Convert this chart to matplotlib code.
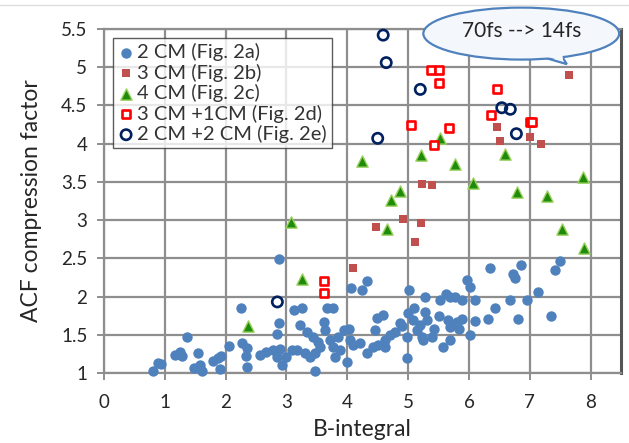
import matplotlib
matplotlib.use("Agg")
import matplotlib.pyplot as plt
from matplotlib.patches import Ellipse, Polygon
from matplotlib.lines import Line2D
import numpy as np

plt.rcParams['font.family'] = ['Lato', 'DejaVu Sans']

# 2 CM (Fig. 2a)
cm2 = np.array([
    (0.80, 1.03), (0.89, 1.13), (0.93, 1.12), (1.17, 1.24), (1.25, 1.27), (1.29, 1.22),
    (1.37, 1.47), (1.48, 1.07), (1.55, 1.26), (1.58, 1.10), (1.61, 1.03), (1.79, 1.16),
    (1.88, 1.19), (1.92, 1.22), (1.90, 1.05), (2.06, 1.35), (2.25, 1.85), (2.27, 1.39),
    (2.35, 1.33), (2.33, 1.22), (2.35, 1.08), (2.57, 1.24), (2.67, 1.28), (2.78, 1.30),
    (2.89, 1.32), (2.84, 1.21), (2.92, 1.10), (3.00, 1.21), (3.09, 1.30), (2.84, 1.51),
    (2.87, 1.66), (2.88, 2.49), (3.13, 1.82), (3.25, 1.85), (3.67, 1.85), (3.77, 1.85),
    (3.17, 1.30), (3.31, 1.26), (3.22, 1.63), (3.33, 1.54), (3.44, 1.47), (3.52, 1.41),
    (3.61, 1.67), (3.63, 1.56), (3.55, 1.34), (3.47, 1.26), (3.39, 1.21), (3.47, 1.03),
    (3.72, 1.43), (3.77, 1.34), (3.85, 1.47), (3.94, 1.56), (4.02, 1.58), (3.88, 1.30),
    (3.80, 1.21), (3.99, 1.15), (4.10, 1.37), (4.21, 1.39), (4.32, 1.26), (4.05, 1.43),
    (4.06, 2.11), (4.24, 2.09), (4.32, 2.21), (4.49, 1.72), (4.58, 1.76), (4.46, 1.56),
    (4.87, 1.65), (4.99, 1.78), (5.09, 1.85), (5.08, 1.69), (5.28, 1.80), (5.20, 1.63),
    (5.31, 1.69), (5.50, 1.74), (5.66, 1.69), (5.80, 1.67), (5.88, 1.71), (5.69, 1.60),
    (5.83, 1.57), (5.42, 1.58), (5.39, 1.47), (6.10, 1.68), (6.02, 1.50), (5.69, 1.43),
    (5.58, 1.34), (6.32, 1.70), (4.70, 1.50), (4.79, 1.54), (4.62, 1.43), (4.51, 1.37),
    (4.62, 1.34), (4.43, 1.34), (4.90, 1.61), (4.98, 1.47), (5.14, 1.56), (5.23, 1.47),
    (4.98, 1.19), (5.25, 1.43), (5.02, 2.08), (5.28, 1.99), (5.53, 1.96), (5.63, 2.03),
    (5.69, 1.99), (5.77, 2.00), (5.88, 1.96), (6.10, 1.96), (5.97, 2.22), (6.01, 2.12),
    (6.35, 2.37), (6.85, 2.41), (6.73, 2.30), (6.76, 2.24), (7.50, 2.47), (7.41, 2.35),
    (7.14, 2.06), (6.67, 1.95), (6.95, 1.95), (6.43, 1.85), (6.81, 1.71), (7.35, 1.74),
])

# 3 CM (Fig. 2b)
cm3 = np.array([
    (4.10, 2.37), (4.47, 2.91), (4.92, 3.02), (5.12, 2.71), (5.21, 2.96), (5.23, 3.47),
    (5.39, 3.46), (6.46, 4.22), (6.51, 4.04), (7.01, 4.09), (7.18, 3.99), (7.64, 4.90),
])

# 4 CM (Fig. 2c)
cm4 = np.array([
    (2.37, 1.62), (3.07, 2.98), (3.25, 2.23), (4.24, 3.77), (4.66, 2.88), (4.72, 3.26),
    (4.87, 3.38), (5.21, 3.85), (5.53, 4.07), (5.77, 3.73), (6.07, 3.49), (6.60, 3.87),
    (6.79, 3.37), (7.28, 3.32), (7.53, 2.89), (7.88, 3.56), (7.89, 2.63),
])

# 3 CM +1CM (Fig. 2d)
cm3p1 = np.array([
    (3.62, 2.21), (3.62, 2.05), (5.37, 4.97), (5.50, 4.97), (5.51, 4.79), (6.46, 4.71),
    (6.36, 4.38), (7.00, 4.28), (7.04, 4.28), (5.04, 4.25), (5.68, 4.20), (5.42, 3.98),
])

# 2 CM +2 CM (Fig. 2e)
cm2p2 = np.array([
    (2.85, 1.93), (4.59, 5.42), (4.64, 5.06), (5.20, 4.71), (4.50, 4.07),
    (6.54, 4.47), (6.68, 4.45), (6.78, 4.13),
])

labels = ['2 CM (Fig. 2a)', '3 CM (Fig. 2b)', '4 CM (Fig. 2c)',
          '3 CM +1CM (Fig. 2d)', '2 CM +2 CM (Fig. 2e)']
x_ticks = np.arange(0, 9, 1)
y_ticks = np.arange(1, 5.51, 0.5)

fig = plt.figure(figsize=(6.29, 4.43), dpi=100)
ax = fig.add_axes([104/629, 1 - 373/443, 517/629, 344/443])

grid_c = '#8e8e8e'
ax.set_xlim(0, 8.5)
ax.set_ylim(1, 5.5)
ax.set_xticks(x_ticks)
ax.set_yticks(y_ticks)
ax.set_yticklabels([('%g' % v) for v in y_ticks])
ax.grid(True, color=grid_c, lw=1.6, zorder=0)
ax.set_axisbelow(True)
ax.tick_params(direction='out', length=5, width=1.4, color=grid_c,
               labelsize=13.5, labelcolor='#262626', pad=7)
ax.tick_params(axis='x', pad=10)
for s in ['left', 'top', 'bottom']:
    ax.spines[s].set_color(grid_c)
    ax.spines[s].set_linewidth(1.6)
ax.spines['right'].set_color('#555555')
ax.spines['right'].set_linewidth(2.2)

ax.set_xlabel('B-integral', fontsize=16.5, color='#262626', labelpad=6)
ax.set_ylabel('ACF compression factor', fontsize=16.5, color='#262626', labelpad=14)

kw = dict(clip_on=False, zorder=3)
ax.scatter(cm2[:, 0], cm2[:, 1], s=56, marker='o', color='#4f81bd', lw=0, label=labels[0], **kw)
ax.scatter(cm3[:, 0], cm3[:, 1], s=38, marker='s', color='#c0504d', lw=0, label=labels[1], **kw)
ax.scatter(cm4[:, 0], cm4[:, 1], s=66, marker='^', facecolor='#1e8c0a', edgecolor='#9bd15f',
           lw=1.0, label=labels[2], **kw)
ax.scatter(cm3p1[:, 0], cm3p1[:, 1], s=32, marker='s', facecolor='white', edgecolor='#ff0000',
           lw=1.9, label=labels[3], **kw)
ax.scatter(cm2p2[:, 0], cm2p2[:, 1], s=55, marker='o', facecolor='none', edgecolor='#002060',
           lw=1.9, label=labels[4], **kw)

leg = ax.legend(loc='upper left', bbox_to_anchor=(9/517, 1 - 9/344), fontsize=14.5,
                frameon=True, fancybox=False, borderaxespad=0, handletextpad=0.15,
                handlelength=0.8, labelspacing=0.12, borderpad=0.25)
leg.get_frame().set_edgecolor('#333333')
leg.get_frame().set_linewidth(1.0)
for t in leg.get_texts():
    t.set_color('#333333')

# callout bubble
ell = Ellipse((6.86, 5.44), 3.22, 0.68, facecolor='#f4f8fc', edgecolor='#4f81bd',
              lw=1.6, clip_on=False, zorder=5)
ax.add_patch(ell)
tail = Polygon([(7.05, 5.17), (7.61, 5.04), (7.50, 5.18)], closed=True,
               facecolor='#f4f8fc', edgecolor='#4f81bd', lw=1.6, clip_on=False, zorder=4)
ax.add_patch(tail)
ax.add_patch(Polygon([(7.02, 5.19), (7.55, 5.08), (7.53, 5.20)], closed=True,
                     facecolor='#f4f8fc', edgecolor='none', clip_on=False, zorder=6))
ax.text(6.86, 5.47, '70fs --> 14fs', fontsize=15, ha='center', va='center',
        color='#262626', zorder=7, clip_on=False)

fig.add_artist(Line2D([0, 1], [1 - 5/443, 1 - 5/443], color='#dddddd', lw=1,
                      transform=fig.transFigure))

fig.savefig('out.png', dpi=100)
